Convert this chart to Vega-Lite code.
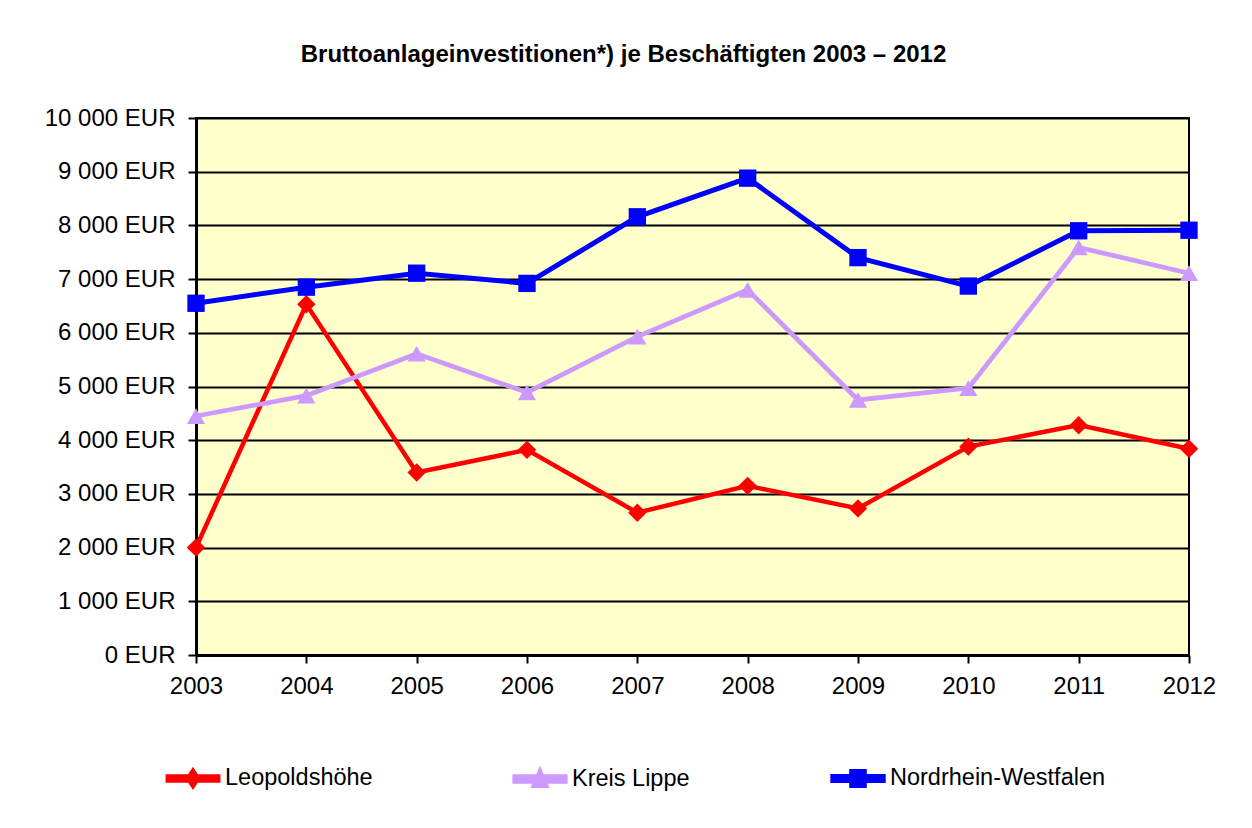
{
  "$schema": "https://vega.github.io/schema/vega-lite/v6.json",
  "width": 993,
  "height": 537,
  "autosize": "none",
  "padding": {"left": 196, "top": 118, "right": 63, "bottom": 173},
  "background": "white",
  "title": {
    "text": "Bruttoanlageinvestitionen*) je Beschäftigten 2003 – 2012",
    "font": "Liberation Sans",
    "fontSize": 24,
    "fontWeight": "bold",
    "color": "black",
    "anchor": "middle",
    "frame": "group",
    "dx": -69,
    "baseline": "alphabetic",
    "offset": 20
  },
  "data": {
    "values": [
      {"year": "2003", "series": "Leopoldshöhe", "value": 2000},
      {"year": "2004", "series": "Leopoldshöhe", "value": 6530},
      {"year": "2005", "series": "Leopoldshöhe", "value": 3400},
      {"year": "2006", "series": "Leopoldshöhe", "value": 3820},
      {"year": "2007", "series": "Leopoldshöhe", "value": 2650},
      {"year": "2008", "series": "Leopoldshöhe", "value": 3150},
      {"year": "2009", "series": "Leopoldshöhe", "value": 2730},
      {"year": "2010", "series": "Leopoldshöhe", "value": 3880},
      {"year": "2011", "series": "Leopoldshöhe", "value": 4280},
      {"year": "2012", "series": "Leopoldshöhe", "value": 3840},
      {"year": "2003", "series": "Kreis Lippe", "value": 4450},
      {"year": "2004", "series": "Kreis Lippe", "value": 4830},
      {"year": "2005", "series": "Kreis Lippe", "value": 5610},
      {"year": "2006", "series": "Kreis Lippe", "value": 4890},
      {"year": "2007", "series": "Kreis Lippe", "value": 5930},
      {"year": "2008", "series": "Kreis Lippe", "value": 6800},
      {"year": "2009", "series": "Kreis Lippe", "value": 4750},
      {"year": "2010", "series": "Kreis Lippe", "value": 4970},
      {"year": "2011", "series": "Kreis Lippe", "value": 7590},
      {"year": "2012", "series": "Kreis Lippe", "value": 7110},
      {"year": "2003", "series": "Nordrhein-Westfalen", "value": 6550},
      {"year": "2004", "series": "Nordrhein-Westfalen", "value": 6850},
      {"year": "2005", "series": "Nordrhein-Westfalen", "value": 7110},
      {"year": "2006", "series": "Nordrhein-Westfalen", "value": 6920},
      {"year": "2007", "series": "Nordrhein-Westfalen", "value": 8160},
      {"year": "2008", "series": "Nordrhein-Westfalen", "value": 8880},
      {"year": "2009", "series": "Nordrhein-Westfalen", "value": 7400},
      {"year": "2010", "series": "Nordrhein-Westfalen", "value": 6870},
      {"year": "2011", "series": "Nordrhein-Westfalen", "value": 7900},
      {"year": "2012", "series": "Nordrhein-Westfalen", "value": 7910}
    ]
  },
  "encoding": {
    "x": {
      "field": "year",
      "type": "ordinal",
      "scale": {"type": "point", "padding": 0},
      "axis": {
        "title": null,
        "labelAngle": 0,
        "labelFont": "Liberation Sans",
        "labelFontSize": 24,
        "labelColor": "black",
        "labelPadding": 11,
        "domainColor": "black",
        "domainWidth": 3,
        "tickColor": "black",
        "tickWidth": 2,
        "tickSize": 8,
        "grid": false
      }
    },
    "y": {
      "field": "value",
      "type": "quantitative",
      "scale": {"domain": [0, 10000], "nice": false},
      "axis": {
        "title": null,
        "values": [0, 1000, 2000, 3000, 4000, 5000, 6000, 7000, 8000, 9000, 10000],
        "labelExpr": "replace(format(datum.value, ',d'), ',', ' ') + ' EUR'",
        "labelFont": "Liberation Sans",
        "labelFontSize": 24,
        "labelColor": "black",
        "labelPadding": 13,
        "domainColor": "black",
        "domainWidth": 3,
        "tickColor": "black",
        "tickWidth": 2,
        "tickSize": 8,
        "grid": true,
        "gridColor": "black",
        "gridWidth": 2,
        "gridOpacity": 1
      }
    }
  },
  "layer": [
    {
      "mark": {"type": "point", "filled": true, "opacity": 0, "size": 10},
      "encoding": {
        "color": {
          "field": "series",
          "type": "nominal",
          "scale": {
            "domain": ["Leopoldshöhe", "Kreis Lippe", "Nordrhein-Westfalen"],
            "range": ["#FF0000", "#CC99FF", "#0000FF"]
          },
          "legend": {
            "title": null,
            "orient": "none",
            "legendX": -31,
            "legendY": 632,
            "direction": "horizontal",
            "columns": 3,
            "columnPadding": 132,
            "symbolSize": 2540,
            "symbolStrokeWidth": 0,
            "symbolOpacity": 1,
            "labelFont": "Liberation Sans",
            "labelFontSize": 23.5,
            "labelColor": "black",
            "labelOffset": 4,
            "labelLimit": 400
          }
        },
        "shape": {
          "field": "series",
          "type": "nominal",
          "scale": {
            "domain": ["Leopoldshöhe", "Kreis Lippe", "Nordrhein-Westfalen"],
            "range": [
              "M-1,-0.08H1V0.08H-1Z M0,-0.3L0.2,0L0,0.3L-0.2,0Z",
              "M-1,-0.095H1V0.095H-1Z M0,-0.3L0.24,0.26L-0.24,0.26Z",
              "M-1,-0.08H1V0.08H-1Z M-0.25,-0.28H0.25V0.28H-0.25Z"
            ]
          },
          "legend": {
            "title": null,
            "orient": "none",
            "legendX": -31,
            "legendY": 632,
            "direction": "horizontal",
            "columns": 3,
            "columnPadding": 132,
            "symbolSize": 2540,
            "symbolStrokeWidth": 0,
            "symbolOpacity": 1,
            "labelFont": "Liberation Sans",
            "labelFontSize": 23.5,
            "labelColor": "black",
            "labelOffset": 4,
            "labelLimit": 400
          }
        }
      }
    },
    {
      "mark": {"type": "line"},
      "encoding": {
        "color": {"field": "series", "type": "nominal", "legend": null},
        "strokeWidth": {
          "field": "series",
          "type": "nominal",
          "scale": {"domain": ["Leopoldshöhe", "Kreis Lippe", "Nordrhein-Westfalen"], "range": [4.5, 5, 4.5]},
          "legend": null
        }
      }
    },
    {
      "transform": [{"filter": "datum.series === 'Leopoldshöhe'"}],
      "mark": {"type": "point", "shape": "diamond", "filled": true, "opacity": 1, "size": 340},
      "encoding": {"color": {"field": "series", "type": "nominal", "legend": null}}
    },
    {
      "transform": [{"filter": "datum.series === 'Kreis Lippe'"}],
      "mark": {"type": "point", "shape": "triangle-up", "filled": true, "opacity": 1, "size": 330},
      "encoding": {"color": {"field": "series", "type": "nominal", "legend": null}}
    },
    {
      "transform": [{"filter": "datum.series === 'Nordrhein-Westfalen'"}],
      "mark": {"type": "point", "shape": "square", "filled": true, "opacity": 1, "size": 300},
      "encoding": {"color": {"field": "series", "type": "nominal", "legend": null}}
    }
  ],
  "config": {
    "view": {"fill": "#FFFFCC", "stroke": "black", "strokeWidth": 2},
    "font": "Liberation Sans"
  }
}
